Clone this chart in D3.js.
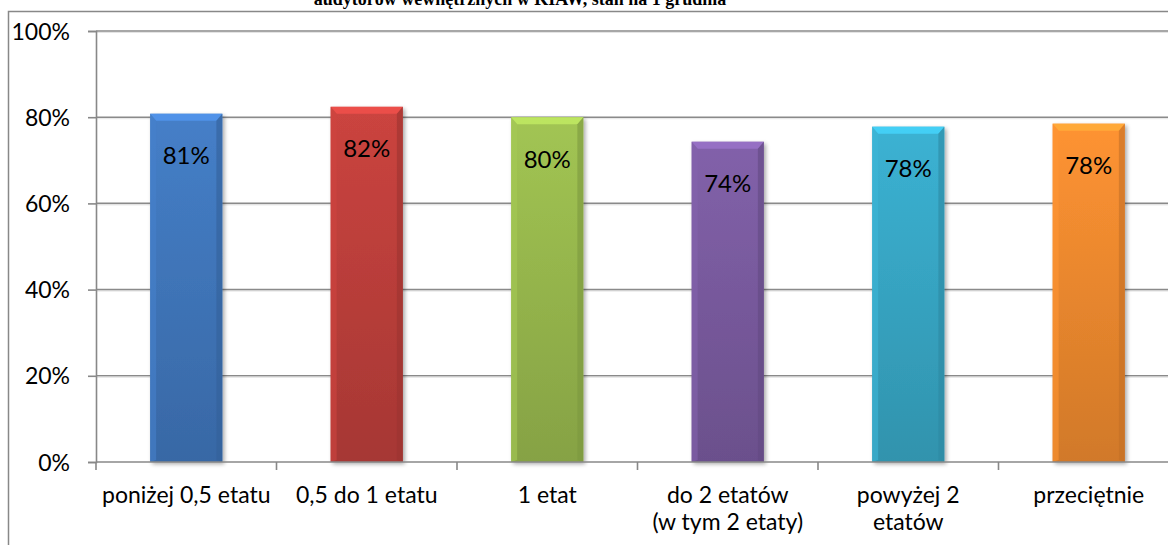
<!DOCTYPE html>
<html><head><meta charset="utf-8">
<script src="https://cdn.jsdelivr.net/npm/d3@7/dist/d3.min.js"></script>
<style>html,body{margin:0;padding:0;background:#fff;overflow:hidden}</style>
</head><body>
<svg id="c" width="1168" height="545"></svg>
<script>
const categories = [["poniżej 0,5 etatu"], ["0,5 do 1 etatu"], ["1 etat"], ["do 2 etatów", "(w tym 2 etaty)"], ["powyżej 2", "etatów"], ["przeciętnie"]];
const values = [0.808, 0.824, 0.80, 0.743, 0.778, 0.785];
const valueLabels = ["81%", "82%", "80%", "74%", "78%", "78%"];
const yTicks = [0, 0.2, 0.4, 0.6, 0.8, 1.0];
const yTickLabels = ["0%", "20%", "40%", "60%", "80%", "100%"];
const titleText = "audytorów wewnętrznych w KIAW, stan na 1 grudnia";
const colors = ["#4178be", "#c0403c", "#9abb4f", "#7b5ca1", "#38a9c8", "#f18b2f"];

(function() {
const svg = d3.select("#c");
const font = "Lato, 'Open Sans', sans-serif";
const pLeft = 96, pRight = 1179, pTop = 31, pBottom = 462;

// outer frame
svg.append("rect").attr("x", 8.5).attr("y", 11.5).attr("width", 1200).attr("height", 600)
  .attr("fill", "none").attr("stroke", "#888").attr("stroke-width", 1.5);

// title (partially cut)
svg.append("text").attr("x", 520).attr("y", 5).attr("text-anchor", "middle")
  .attr("font-family", "'Liberation Serif', serif").attr("font-weight", "bold").attr("font-size", 18)
  .attr("fill", "#000").text(titleText);

const x = d3.scaleBand().domain(d3.range(categories.length)).range([pLeft, pRight]).paddingInner(0.6).paddingOuter(0.3);
const xOuter = d3.scaleBand().domain(d3.range(categories.length)).range([pLeft, pRight]);
const y = d3.scaleLinear().domain([0, 1]).range([pBottom, pTop]);

// gridlines
svg.append("g").selectAll("line").data(yTicks.filter(d => d > 0)).join("line")
  .attr("x1", pLeft).attr("x2", 1168).attr("y1", d => y(d)).attr("y2", d => y(d))
  .attr("stroke", "#8a8a8a").attr("stroke-width", 1.6);
svg.append("g").selectAll("line").data(yTicks.filter(d => d > 0)).join("line")
  .attr("x1", pLeft).attr("x2", 1168).attr("y1", d => y(d) + 1.5).attr("y2", d => y(d) + 1.5)
  .attr("stroke", "#e4e4e4").attr("stroke-width", 1);

// y axis
const yAxis = d3.axisLeft(y).tickValues(yTicks).tickFormat((d, i) => yTickLabels[i]).tickSize(8).tickPadding(18);
const gy = svg.append("g").attr("transform", `translate(${pLeft},0)`).call(yAxis);
gy.select(".domain").attr("stroke", "#888").attr("stroke-width", 1.6);
gy.selectAll(".tick line").attr("stroke", "#888").attr("stroke-width", 1.6);
gy.selectAll(".tick text").attr("font-family", font).attr("font-size", 23).attr("fill", "#000").attr("dy", "0.35em");

// gradients
const defs = svg.append("defs");
colors.forEach((c, i) => {
  const g = defs.append("linearGradient").attr("id", "g" + i).attr("x1", 0).attr("x2", 0).attr("y1", 0).attr("y2", 1);
  g.append("stop").attr("offset", 0).attr("stop-color", d3.color(c).brighter(0.15));
  g.append("stop").attr("offset", 1).attr("stop-color", d3.color(c).darker(0.4));
});
const sh = defs.append("filter").attr("id", "sh").attr("x", "-20%").attr("y", "-5%").attr("width", "140%").attr("height", "110%");
sh.append("feGaussianBlur").attr("in", "SourceAlpha").attr("stdDeviation", 2);
sh.append("feOffset").attr("dx", 2).attr("dy", 2).attr("result", "b");
sh.append("feComponentTransfer").append("feFuncA").attr("type", "linear").attr("slope", 0.35);
const mg = sh.append("feMerge"); mg.append("feMergeNode"); mg.append("feMergeNode").attr("in", "SourceGraphic");

// bars
const bars = svg.append("g").selectAll("g").data(values).join("g");
bars.each(function(v, i) {
  const g = d3.select(this);
  const x0 = x(i), w = x.bandwidth(), y0 = y(v), y1 = y(0);
  const c = d3.color(colors[i]);
  const b = 6, bt = 7;
  g.append("rect").attr("x", x0).attr("y", y0).attr("width", w).attr("height", y1 - y0)
    .attr("fill", `url(#g${i})`).attr("filter", "url(#sh)");
  g.append("path").attr("d", `M${x0},${y0}L${x0 + w},${y0}L${x0 + w - b},${y0 + bt}L${x0 + b},${y0 + bt}Z`)
    .attr("fill", c.brighter(0.6)).attr("opacity", 0.9);
  g.append("path").attr("d", `M${x0},${y0}L${x0 + b},${y0 + bt}L${x0 + b},${y1 - 2}L${x0},${y1}Z`)
    .attr("fill", c.brighter(0.2)).attr("opacity", 0.6);
  g.append("path").attr("d", `M${x0 + w},${y0}L${x0 + w - b},${y0 + bt}L${x0 + w - b},${y1 - 2}L${x0 + w},${y1}Z`)
    .attr("fill", c.darker(0.6)).attr("opacity", 0.6);
  g.append("text").attr("x", x0 + w / 2).attr("y", y0 + 42).attr("dy", "0.35em").attr("text-anchor", "middle")
    .attr("font-family", font).attr("font-size", 24).attr("fill", "#000").text(valueLabels[i]);
});

// x axis
svg.append("line").attr("x1", pLeft).attr("x2", 1168).attr("y1", pBottom).attr("y2", pBottom)
  .attr("stroke", "#888").attr("stroke-width", 1.6);
const bounds = d3.range(categories.length + 1).map(i => i < categories.length ? xOuter(i) : pRight);
svg.append("g").selectAll("line").data(bounds).join("line")
  .attr("x1", d => d).attr("x2", d => d).attr("y1", pBottom).attr("y2", pBottom + 8)
  .attr("stroke", "#888").attr("stroke-width", 1.6);
const xl = svg.append("g").selectAll("text").data(categories).join("text")
  .attr("x", (d, i) => xOuter(i) + xOuter.bandwidth() / 2).attr("y", 503)
  .attr("text-anchor", "middle").attr("font-family", font).attr("font-size", 23).attr("fill", "#000");
xl.selectAll("tspan").data(d => d).join("tspan")
  .attr("x", function() { return this.parentNode.getAttribute("x"); })
  .attr("dy", (d, i) => i === 0 ? 0 : 27).text(d => d);
})();
</script>
</body></html>
